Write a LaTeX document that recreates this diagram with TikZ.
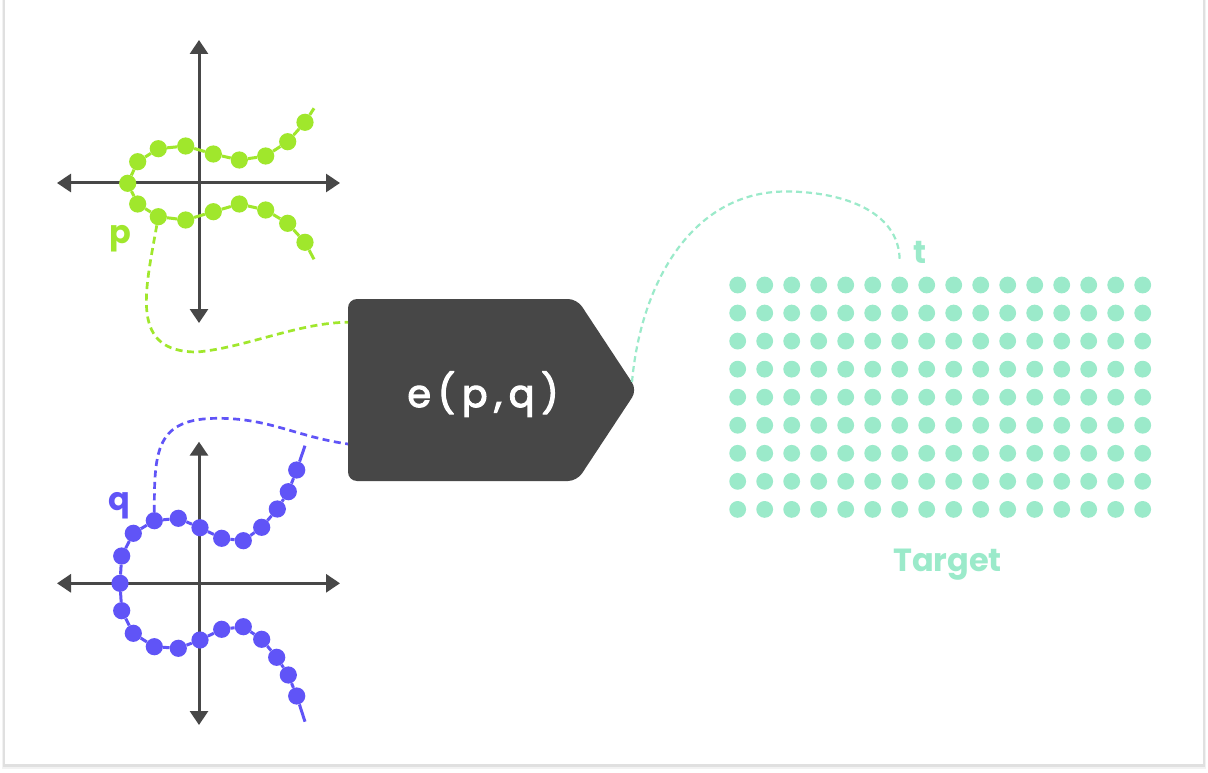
\documentclass[tikz,border=0pt]{standalone}
\usepackage{fontspec}
\setmainfont{Poppins}
\newfontfamily\boxfont{Poppins}[LetterSpace=18, UprightFeatures={FakeBold=3}]
\usetikzlibrary{arrows.meta}

\definecolor{pgreen}{RGB}{160,231,44}
\definecolor{qblue}{RGB}{96,84,247}
\definecolor{tteal}{RGB}{155,234,202}
\definecolor{boxgray}{RGB}{71,71,71}

\begin{document}
\begin{tikzpicture}[x=1pt, y=1pt]

    \tikzstyle{axis}=[draw=boxgray, line width=3pt, {Triangle[length=14pt, width=18pt]}-{Triangle[length=14pt, width=18pt]}];
    \tikzstyle{pdot}=[circle, fill=pgreen, minimum size=17.2pt, inner sep=0pt];
    \tikzstyle{qdot}=[circle, fill=qblue, minimum size=17.2pt, inner sep=0pt];
    \tikzstyle{tdot}=[circle, fill=tteal, minimum size=16.8pt, inner sep=0pt];
    \tikzstyle{pline}=[draw=pgreen, line width=3pt];
    \tikzstyle{qline}=[draw=qblue, line width=3pt];
    \tikzstyle{dashlink}=[line width=2.7pt, dash pattern=on 7pt off 4.5pt];
    \tikzstyle{tag}=[font=\fontsize{32}{32}\selectfont\bfseries, inner sep=0pt, anchor=base];

    % card
    \useasboundingbox (0,0) rectangle (1208,-773);
    \fill[white] (0,0) rectangle (1208,-773);
    \fill[black!5] (2,0) rectangle (1206,-768.5);
    \fill[black!12] (3,0) rectangle (1205,-767);
    \fill[white] (5,0) rectangle (1203,-764);

    % axes
    \draw[axis] (57,-183) -- (340,-183);
    \draw[axis] (199,-40) -- (199,-323);
    \draw[axis] (57,-583.3) -- (340,-583.3);
    \draw[axis] (199,-441.7) -- (199,-725);

    % p
    \foreach \x/\y [count=\i] in {305/122.3, 287.7/141.7, 265.7/156, 239.3/160, 213.3/154, 185.7/146,
        158.3/148.7, 137.7/161.7, 127.7/183.3, 137.7/204, 158.3/216.7, 185.7/220, 213.3/211.7,
        239.3/204, 265.7/210, 287.7/223.3, 305/242.3}
        \node[pdot] (p\i) at (\x,-\y) {};
    \coordinate (pa) at (314,-108.3);
    \coordinate (pb) at (314,-259.3);
    \foreach \i [count=\j from 2] in {1,...,16}
        \draw[pline] (p\i) -- (p\j);
    \draw[pline] (p1) -- (pa);
    \draw[pline] (p17) -- (pb);
    \node[tag, text=pgreen] (plabel) at (120,-243.3) {p};

    % q
    \foreach \x/\y [count=\i] in {296.7/470, 288.3/491.7, 277.3/509, 261.7/527.3, 243.3/540.7,
        221.7/538.3, 200/527.7, 178.3/518.3, 154.3/520.7, 133.3/533.3, 121.7/556, 120/583.3,
        121.7/610.7, 133.3/633.3, 154.3/646.7, 178.3/648.3, 200/640, 221.7/629.3, 243.3/626.7,
        261.7/639.3, 276.7/657.3, 288.3/675, 296.7/696}
        \node[qdot] (q\i) at (\x,-\y) {};
    \coordinate (qa) at (305,-445.7);
    \coordinate (qb) at (305,-721.7);
    \foreach \i [count=\j from 2] in {1,...,22}
        \draw[qline] (q\i) -- (q\j);
    \draw[qline] (q1) -- (qa);
    \draw[qline] (q23) -- (qb);
    \node[tag, text=qblue] (qlabel) at (119.7,-510) {q};

    % e(p,q)
    \fill[boxgray, rounded corners=9pt] (348,-299) -- (577,-299) -- (637,-390) -- (577,-481) -- (348,-481) -- cycle;
    \node[text=white, font=\boxfont\fontsize{38}{38}\selectfont, anchor=base] (epq) at (483,-407) {e(p,q)};
    \coordinate (pin) at (348,-322.3);
    \coordinate (qin) at (348,-444);
    \coordinate (tout) at (632,-382);

    % target
    \foreach \c in {0,...,15}
        \foreach \r in {0,...,8}
            \node[tdot] (t-\c-\r) at (737.7+27*\c, -285-28.05*\r) {};
    \coordinate (tend) at (899.7,-261);
    \node[tag, text=tteal] (tlabel) at (920,-263.3) {t};
    \node[tag, text=tteal] (target) at (947.5,-571.7) {Target};

    % links
    \coordinate (plow) at (197,-352);
    \coordinate (qtop) at (218,-418.3);
    \coordinate (ttop) at (786,-191.5);
    \draw[dashlink, pgreen] (p11) to[out=-100, in=180, looseness=1.3] (plow) to[out=5, in=180, looseness=0.8] (pin);
    \draw[dashlink, qblue] (q9) to[out=90, in=180, looseness=1.4] (qtop) to[out=0, in=172] (qin);
    \draw[tteal, line width=2.2pt, dash pattern=on 6pt off 4pt] (tout) to[out=85, in=180] (ttop) to[out=0, in=90] (tend);
\end{tikzpicture}
\end{document}
